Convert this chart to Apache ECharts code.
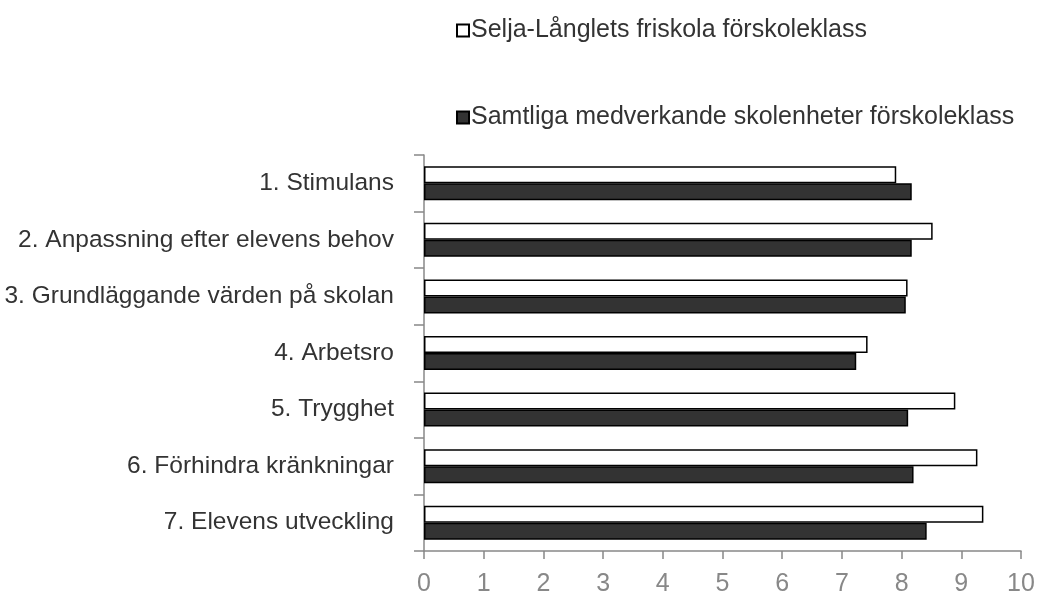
<!DOCTYPE html>
<html><head><meta charset="utf-8">
<script src="https://cdn.jsdelivr.net/npm/echarts@6/dist/echarts.min.js"></script>
<style>html,body{margin:0;padding:0;background:#fff}#c{width:1040px;height:597px}</style>
</head><body><div id="c"></div>
<script>
const categories = ["1. Stimulans","2. Anpassning efter elevens behov","3. Grundläggande värden på skolan","4. Arbetsro","5. Trygghet","6. Förhindra kränkningar","7. Elevens utveckling"];
const seriesNames = ["Selja-Långlets friskola förskoleklass","Samtliga medverkande skolenheter förskoleklass"];
const schoolValues = [7.91, 8.52, 8.10, 7.43, 8.90, 9.27, 9.37];
const allValues = [8.17, 8.17, 8.07, 7.24, 8.11, 8.20, 8.42];
const xTicks = [0,1,2,3,4,5,6,7,8,9,10];

const chart = echarts.init(document.getElementById('c'), null, {renderer:'canvas'});
const font = 'Liberation Sans, Arial, sans-serif';
chart.setOption({
  animation:false,
  backgroundColor:'#fff',
  legend:{
    orient:'vertical', left:451, top:13, itemGap:62,
    itemWidth:12, itemHeight:12, icon:'rect',
    textStyle:{fontFamily:font, fontSize:25, color:'#333', padding:[0,0,0,-3]},
    data:seriesNames
  },
  grid:{left:424, right:19, top:155, bottom:45, containLabel:false},
  xAxis:{
    type:'value', min:xTicks[0], max:xTicks[xTicks.length-1], interval:1,
    axisLine:{show:true, lineStyle:{color:'#888', width:1.5}},
    axisTick:{show:true, length:8, lineStyle:{color:'#888', width:1.5}},
    axisLabel:{fontFamily:font, fontSize:25, color:'#888', margin:21},
    splitLine:{show:false}
  },
  yAxis:{
    type:'category', data:categories, inverse:true,
    axisLine:{show:true, lineStyle:{color:'#888', width:1.5}},
    axisTick:{show:true, length:10, lineStyle:{color:'#888', width:1.5}},
    axisLabel:{fontFamily:font, fontSize:24.5, color:'#333', margin:30}
  },
  series:[
    {name:seriesNames[0], type:'bar', data:schoolValues, barWidth:17, barGap:'0%',
     itemStyle:{color:'#ffffff', borderColor:'#000', borderWidth:1.5}},
    {name:seriesNames[1], type:'bar', data:allValues, barWidth:17, barGap:'0%',
     itemStyle:{color:'#333333', borderColor:'#000', borderWidth:1.5}}
  ]
});
</script></body></html>
